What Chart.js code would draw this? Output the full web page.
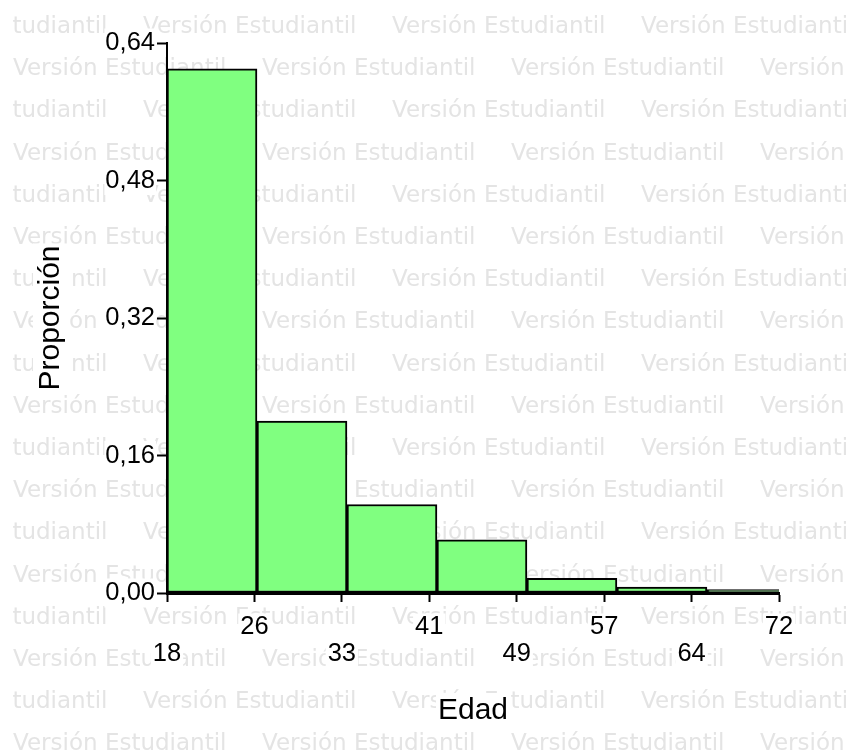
<!DOCTYPE html>
<html>
<head>
<meta charset="utf-8">
<title>Edad - histograma</title>
<script src="https://cdn.jsdelivr.net/npm/chart.js@4"></script>
<style>
  html, body { margin: 0; padding: 0; background: #fff; }
  #contenedor { width: 852px; height: 755px; }
</style>
</head>
<body>
<div id="contenedor"><canvas id="myChart"></canvas></div>
<script>
const inicioClases = [18, 25.94, 33.88, 41.82, 49.76, 57.7, 65.64];
const anchoClase = 7.94;
const proporciones = [0.61, 0.20, 0.103, 0.062, 0.017, 0.007, 0.004];

// Marcas de los ejes
const ticksEdad = [18, 25.714, 33.429, 41.143, 48.857, 56.571, 64.286, 72];
const etiquetasEdad = ["18", "26", "33", "41", "49", "57", "64", "72"];
const ticksProporcion = [0, 0.16, 0.32, 0.48, 0.64];

const marcaAgua = "Versión Estudiantil";

const fuenteTicks = { family: "'Liberation Sans', Arial, sans-serif", size: 25.5, lineHeight: "27px" };
const fuenteTitulo = { family: "'Liberation Sans', Arial, sans-serif", size: 30 };

// fondo con la marca de agua y huecos blancos bajo los textos
const fondo = {
  id: "fondo",
  beforeDraw(chart) {
    const ctx = chart.ctx;
    ctx.save();
    ctx.fillStyle = "#fff";
    ctx.fillRect(0, 0, chart.width, chart.height);

    ctx.save();
    ctx.beginPath();
    ctx.rect(13, 0, 833, chart.height);
    ctx.clip();
    ctx.font = "23px \"DejaVu Sans\", Verdana, sans-serif";
    ctx.fillStyle = "#e4e4e4";
    ctx.textBaseline = "alphabetic";
    for (let i = 0; i < 18; i++) {
      const y = 33 + i * 42.2;
      let x = (i % 2 === 0) ? -106 : 13;
      for (; x < chart.width; x += 249) {
        ctx.fillText(marcaAgua, x, y);
      }
    }
    ctx.restore();

    // huecos bajo etiquetas del eje x
    const sx = chart.scales.x;
    ctx.fillStyle = "#fff";
    ctx.font = fuenteTicks.size + "px " + fuenteTicks.family;
    ticksEdad.forEach((v, i) => {
      const px = sx.getPixelForValue(v);
      const w = ctx.measureText(etiquetasEdad[i]).width + 4;
      const cy = sx.top + 9 + 11 + 13.5 + (i % 2 === 0 ? 27 : 0);
      ctx.fillRect(px - w / 2, cy - 13, w, 26);
    });

    // huecos bajo los títulos
    ctx.font = fuenteTitulo.size + "px " + fuenteTitulo.family;
    const lh = fuenteTitulo.size * 1.2;
    const tx = ctx.measureText("Edad").width + 4;
    const cyx = sx.bottom - 26 - lh / 2;
    ctx.fillRect((sx.left + sx.right) / 2 - tx / 2, cyx - lh / 2, tx, lh);
    const sy = chart.scales.y;
    const ty = ctx.measureText("Proporción").width + 4;
    const cxy = sy.left + 33 + lh / 2;
    const cyy = (sy.top + sy.bottom) / 2;
    ctx.fillRect(cxy - lh / 2, cyy - ty / 2, lh, ty);
    ctx.restore();
  }
};

const datos = inicioClases.map((x0, i) => ({ x: x0 + anchoClase / 2, y: proporciones[i] }));

const config = {
  type: "bar",
  data: {
    datasets: [{
      label: "Proporción",
      data: datos,
      backgroundColor: "#80ff80",
      borderColor: "#000",
      borderWidth: 2,
      borderSkipped: false,
      barThickness: "flex",
      barPercentage: 1,
      categoryPercentage: 1
    }]
  },
  options: {
    responsive: false,
    animation: false,
    events: [],
    layout: { padding: { left: 0, top: 43, right: 73, bottom: 0 } },
    plugins: {
      legend: { display: false },
      tooltip: { enabled: false }
    },
    scales: {
      x: {
        type: "linear",
        offset: false,
        min: 18,
        max: 72,
        afterFit: (s) => { s.height = 162; },
        afterBuildTicks: (s) => { s.ticks = ticksEdad.map(v => ({ value: v })); },
        grid: {
          display: true,
          offset: false,
          drawOnChartArea: false,
          drawTicks: true,
          tickLength: 9,
          tickWidth: 2,
          tickColor: "#000"
        },
        border: { display: true, color: "#000", width: 3 },
        ticks: {
          autoSkip: false,
          maxRotation: 0,
          minRotation: 0,
          padding: 11,
          color: "#000",
          font: fuenteTicks,
          callback: (value, index) => index % 2 === 0 ? ["", etiquetasEdad[index]] : [etiquetasEdad[index]]
        },
        title: {
          display: true,
          text: "Edad",
          color: "#000",
          font: fuenteTitulo,
          padding: { top: 0, bottom: 26 }
        }
      },
      y: {
        min: 0,
        max: 0.64,
        afterFit: (s) => { s.width = 167; },
        afterBuildTicks: (s) => { s.ticks = ticksProporcion.map(v => ({ value: v })); },
        grid: {
          display: true,
          drawOnChartArea: false,
          drawTicks: true,
          tickLength: 10,
          tickWidth: 2,
          tickColor: "#000"
        },
        border: { display: true, color: "#000", width: 2 },
        ticks: {
          padding: 2,
          color: "#000",
          font: fuenteTicks,
          showLabelBackdrop: true,
          backdropColor: "#fff",
          backdropPadding: 1,
          callback: (value) => value.toFixed(2).replace(".", ",")
        },
        title: {
          display: true,
          text: "Proporción",
          color: "#000",
          font: fuenteTitulo,
          padding: { top: 33, bottom: 0 }
        }
      }
    }
  },
  plugins: [fondo]
};

const chartDOM = document.getElementById("myChart");
chartDOM.width = 852;
chartDOM.height = 755;
const myChart = new Chart(chartDOM, config);
</script>
</body>
</html>
